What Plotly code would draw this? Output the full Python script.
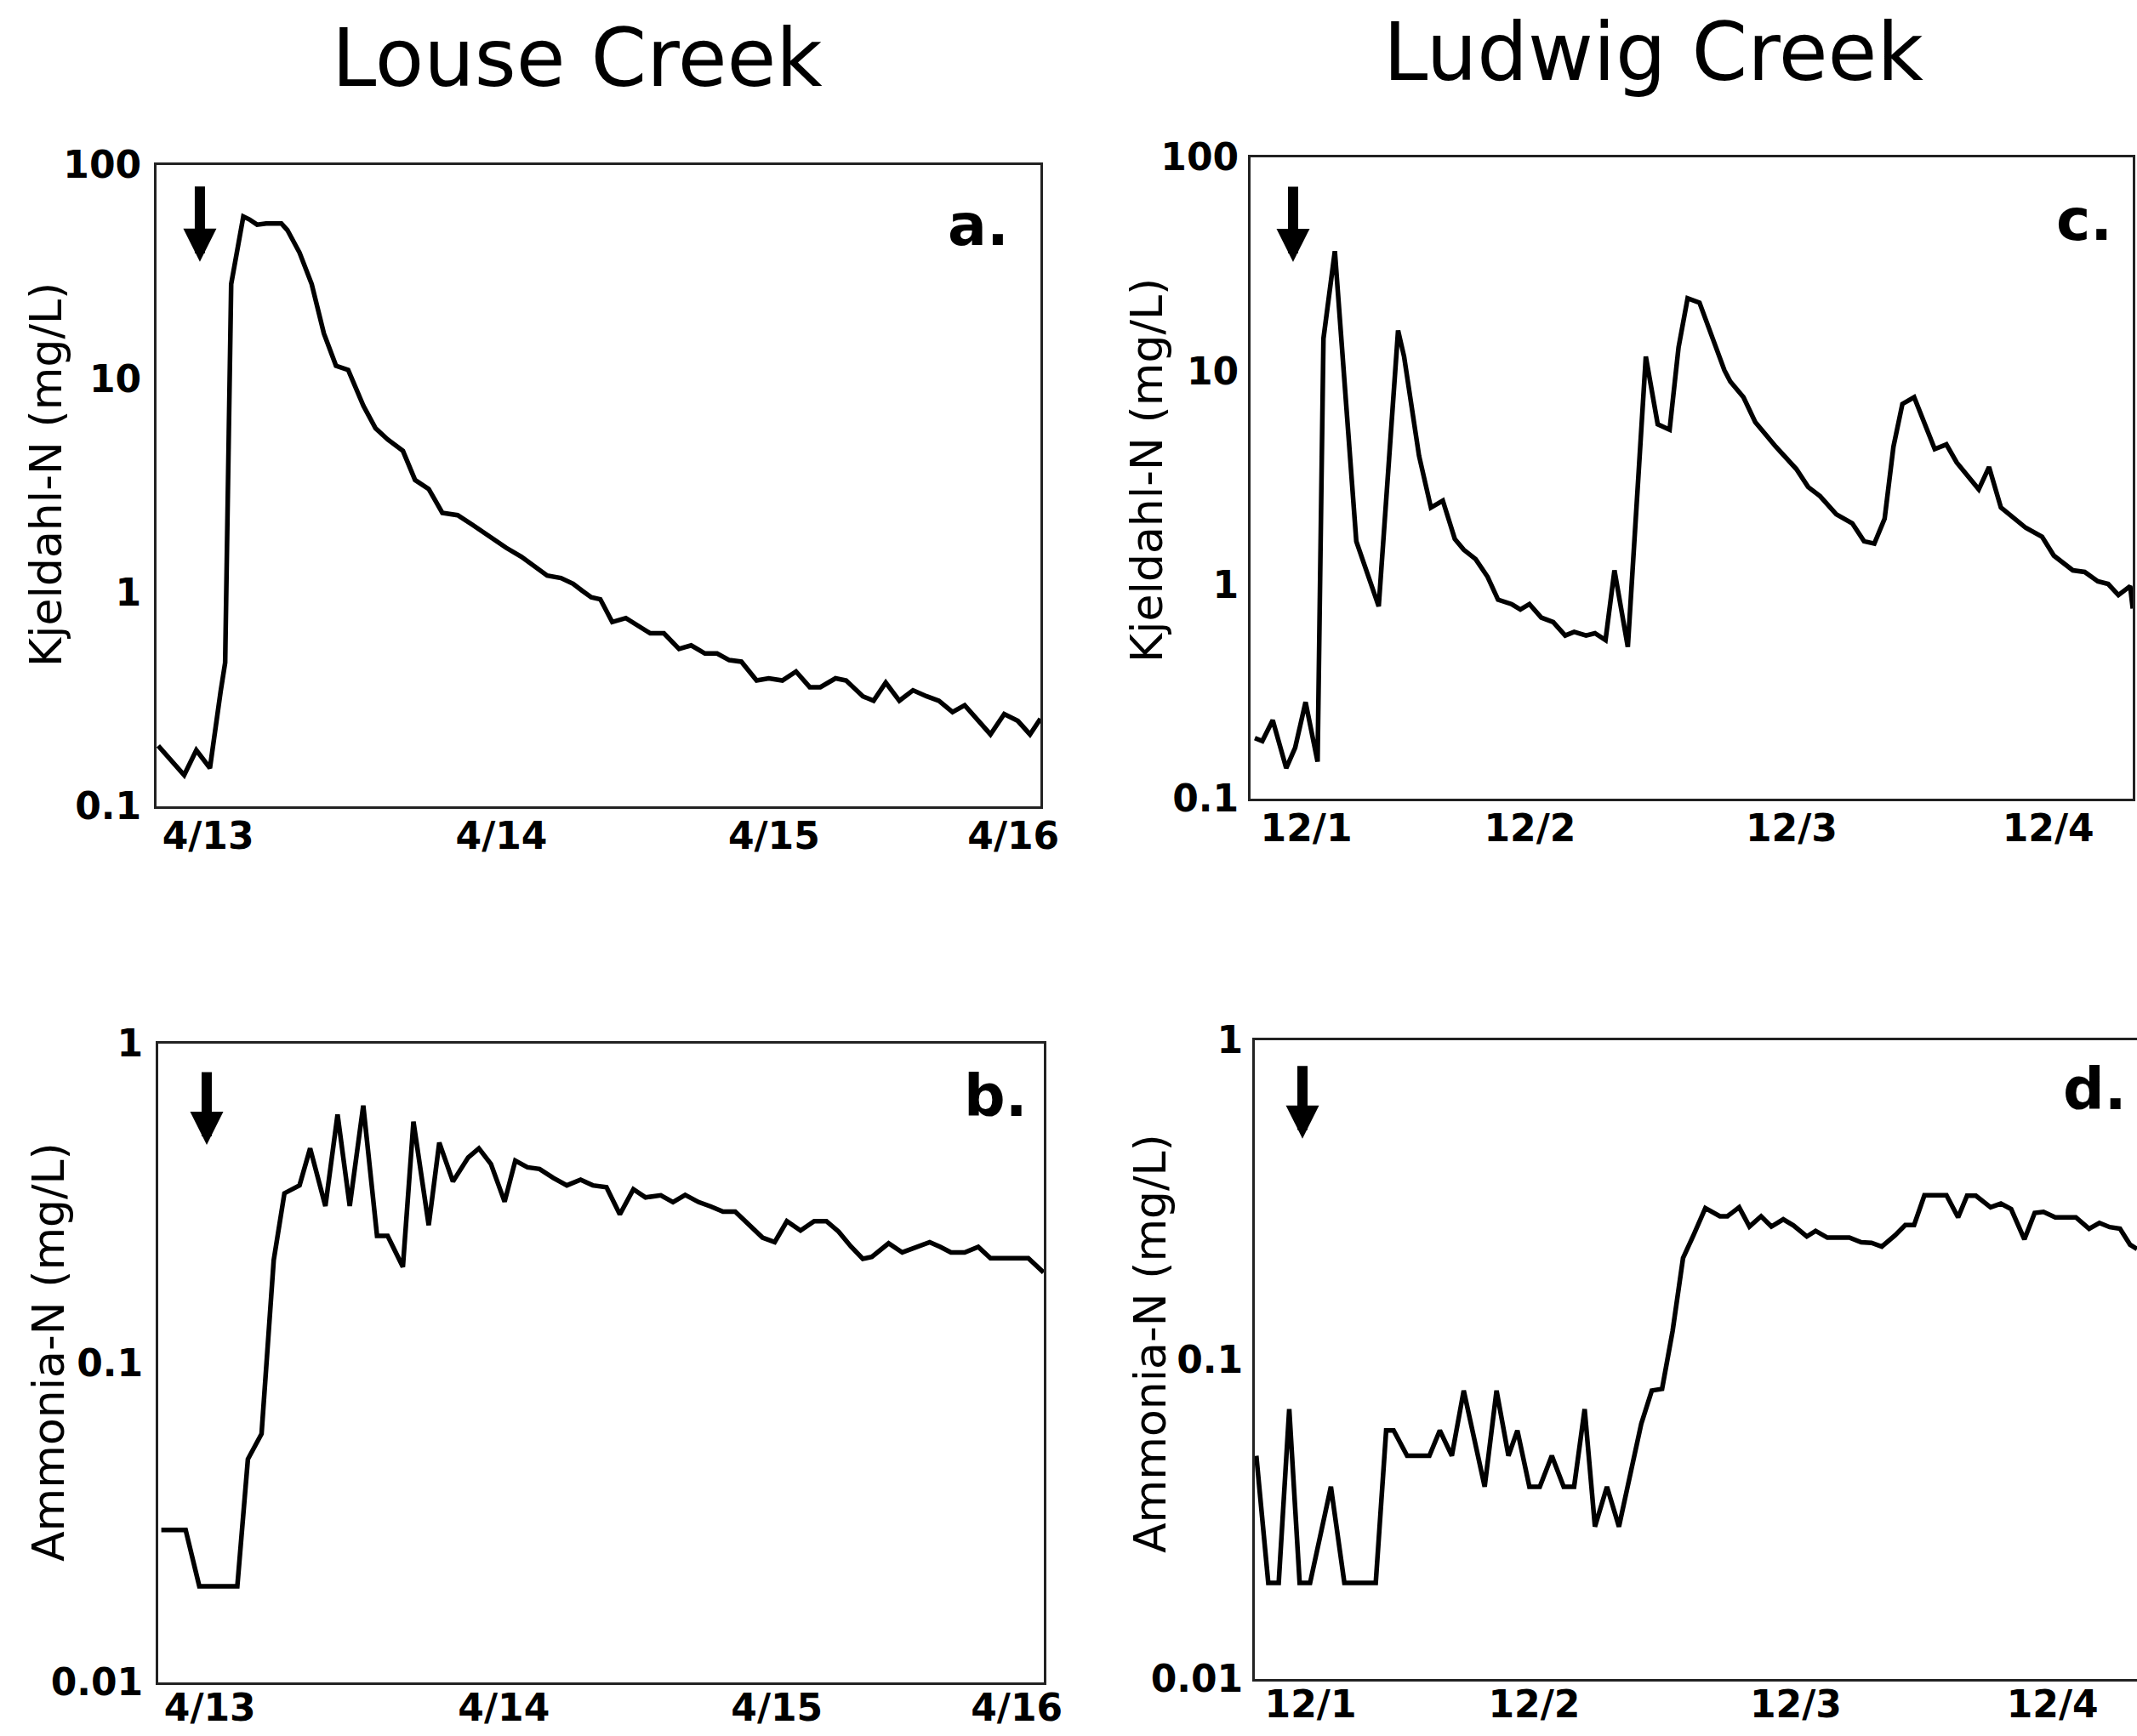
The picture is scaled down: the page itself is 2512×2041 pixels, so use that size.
import plotly.graph_objects as go

# ---------------- data (x = hours from left edge of each panel) ----------------
# Louse Creek, Kjeldahl-N (panel a)
louse_tkn_hours = [0.14, 2.25, 3.24, 4.35, 5.22, 5.59, 6.08, 6.45, 7.07, 7.57, 8.19, 8.93, 10.17, 10.66,
                   11.65, 12.64, 13.63, 14.62, 15.61, 16.85, 17.84, 18.83, 20.07, 21.06, 22.17, 23.28,
                   24.53, 25.76, 27.0, 28.48, 29.72, 30.96, 31.82, 32.94, 33.93, 34.67, 35.41, 36.15,
                   37.12, 38.23, 40.21, 41.33, 42.56, 43.55, 44.67, 45.66, 46.65, 47.64, 48.88, 49.87,
                   50.98, 52.09, 53.21, 54.07, 55.31, 56.17, 57.54, 58.41, 59.40, 60.51, 61.62, 62.74,
                   63.73, 64.84, 65.83, 67.93, 69.05, 70.16, 71.15, 72.0]
louse_tkn = [0.192, 0.140, 0.183, 0.151, 0.344, 0.47, 27.7, 37.1, 57.4, 55.6, 52.6, 53.3, 53.3, 49.6,
             38.9, 27.7, 16.3, 11.5, 11.0, 7.48, 5.87, 5.20, 4.60, 3.36, 3.05, 2.36,
             2.30, 2.07, 1.85, 1.62, 1.47, 1.30, 1.20, 1.17, 1.10, 1.02, 0.95, 0.93,
             0.728, 0.76, 0.645, 0.645, 0.545, 0.566, 0.519, 0.519, 0.483, 0.475, 0.388, 0.397,
             0.388, 0.427, 0.361, 0.361, 0.397, 0.388, 0.327, 0.312, 0.379, 0.312, 0.349, 0.327,
             0.312, 0.276, 0.297, 0.217, 0.27, 0.251, 0.217, 0.257]

# Louse Creek, Ammonia-N (panel b)
louse_nh3_hours = [0.25, 2.23, 3.34, 6.43, 7.29, 8.40, 9.39, 10.26, 11.49, 12.35, 13.59, 14.58, 15.57,
                   16.67, 17.79, 18.65, 19.89, 20.75, 21.99, 22.85, 23.96, 25.20, 26.07, 27.05, 28.16,
                   29.03, 30.02, 31.00, 32.12, 33.22, 34.34, 35.33, 36.44, 37.53, 38.63, 39.62, 40.86,
                   41.85, 42.84, 43.94, 44.93, 45.92, 46.91, 48.14, 49.13, 50.12, 51.11, 52.22, 53.33,
                   54.32, 55.31, 56.30, 57.28, 58.02, 59.38, 60.49, 61.61, 62.72, 63.59, 64.45, 65.56,
                   66.67, 67.66, 68.77, 70.74, 71.98]
louse_nh3 = [0.03, 0.03, 0.02, 0.02, 0.05, 0.06, 0.21, 0.34, 0.36, 0.47, 0.31, 0.60, 0.31,
             0.64, 0.25, 0.25, 0.20, 0.57, 0.27, 0.49, 0.37, 0.44, 0.47, 0.42, 0.32,
             0.43, 0.41, 0.405, 0.38, 0.36, 0.375, 0.36, 0.355, 0.292, 0.35, 0.33, 0.335,
             0.319, 0.336, 0.319, 0.309, 0.298, 0.298, 0.269, 0.247, 0.239, 0.278, 0.26, 0.278,
             0.278, 0.258, 0.232, 0.212, 0.215, 0.237, 0.222, 0.231, 0.239, 0.231, 0.222, 0.222,
             0.231, 0.213, 0.213, 0.213, 0.192]

# Ludwig Creek, Kjeldahl-N (panel c)
ludwig_tkn_hours = [0.35, 0.96, 1.81, 2.91, 3.64, 4.49, 5.47, 5.95, 6.88, 8.63, 10.46, 12.04, 12.53,
                    13.75, 14.72, 15.69, 16.67, 17.40, 18.37, 19.35, 20.20, 21.29, 22.02, 22.76, 23.73,
                    24.70, 25.68, 26.41, 27.38, 28.11, 28.97, 29.70, 30.79, 32.26, 33.23, 34.20, 34.93,
                    35.67, 36.64, 37.60, 38.67, 39.15, 40.23, 41.19, 42.87, 44.55, 45.51, 46.48, 47.80,
                    49.11, 50.07, 50.91, 51.75, 52.47, 53.20, 54.16, 54.99, 55.84, 56.79, 57.63, 59.43,
                    60.27, 61.24, 62.31, 63.27, 64.60, 65.56, 67.11, 68.08, 69.15, 69.99, 70.83, 71.79, 72.0]
ludwig_tkn = [0.192, 0.186, 0.233, 0.139, 0.173, 0.283, 0.149, 14.2, 36.4, 1.60, 0.794, 15.5, 11.7,
              4.02, 2.30, 2.48, 1.64, 1.46, 1.32, 1.09, 0.853, 0.813, 0.767, 0.813, 0.703,
              0.670, 0.580, 0.603, 0.580, 0.594, 0.552, 1.17, 0.513, 11.7, 5.64, 5.32, 12.9,
              21.9, 20.9, 14.9, 10.1, 8.95, 7.55, 5.78, 4.43, 3.48, 2.87, 2.60, 2.14,
              1.94, 1.60, 1.56, 2.04, 4.43, 7.02, 7.55, 5.64, 4.32, 4.54, 3.74, 2.80,
              3.56, 2.30, 2.04, 1.85, 1.68, 1.37, 1.17, 1.15, 1.04, 1.01, 0.896, 0.987, 0.775]

# Ludwig Creek, Ammonia-N (panel d)
ludwig_nh3_hours = [0.125, 1.10, 1.95, 2.81, 3.66, 4.51, 6.21, 7.31, 9.87, 10.72, 11.33, 12.43, 14.25,
                    15.10, 16.08, 17.05, 18.76, 19.73, 20.70, 21.43, 22.41, 23.26, 24.24, 25.21, 26.06,
                    26.92, 27.76, 28.74, 29.72, 31.54, 32.40, 33.24, 34.10, 34.95, 35.80, 36.77, 37.96,
                    38.57, 39.53, 40.37, 41.32, 42.16, 43.13, 43.97, 45.05, 45.77, 46.73, 48.52, 49.49,
                    50.33, 51.17, 52.25, 53.09, 53.81, 54.65, 56.45, 57.40, 58.13, 58.85, 60.05, 60.89,
                    61.73, 62.81, 63.65, 64.37, 65.33, 67.01, 68.09, 68.93, 69.77, 70.61, 71.44, 72.0]
ludwig_nh3 = [0.05, 0.02, 0.02, 0.07, 0.02, 0.02, 0.04, 0.02, 0.02, 0.06, 0.06, 0.05, 0.05,
              0.06, 0.05, 0.08, 0.04, 0.08, 0.05, 0.06, 0.04, 0.04, 0.05, 0.04, 0.04,
              0.07, 0.03, 0.04, 0.03, 0.063, 0.080, 0.081, 0.123, 0.208, 0.245, 0.298, 0.281,
              0.281, 0.300, 0.261, 0.281, 0.261, 0.275, 0.263, 0.243, 0.253, 0.241, 0.241, 0.233,
              0.232, 0.226, 0.245, 0.264, 0.264, 0.327, 0.327, 0.279, 0.326, 0.326, 0.300, 0.308,
              0.296, 0.238, 0.288, 0.290, 0.279, 0.279, 0.257, 0.268, 0.260, 0.257, 0.229, 0.222]

# axis ticks
louse_tick_hours = [4.2, 28.1, 50.3, 69.8]
louse_tick_labels = ["4/13", "4/14", "4/15", "4/16"]
ludwig_tick_hours = [4.55, 22.8, 44.15, 65.1]
ludwig_tick_labels = ["12/1", "12/2", "12/3", "12/4"]
tkn_ticks = [0.1, 1, 10, 100]
tkn_tick_labels = ["0.1", "1", "10", "100"]
nh3_ticks = [0.01, 0.1, 1]
nh3_tick_labels = ["0.01", "0.1", "1"]
event_hours = [3.53, 3.94, 3.47, 3.89]   # storm-start arrows a, b, c, d

W, H = 2512, 2041

def px_x(p):
    return p / W

def px_y(p):
    return 1 - p / H

# panel boxes in pixels: (left, right, top, bottom)
boxes = {
    "a": (184, 1223, 194, 948),
    "b": (186, 1227, 1227, 1978),
    "c": (1470, 2507, 185, 939),
    "d": (1475, 2512, 1223, 1974),
}
# tick label offsets (x standoff, y standoff)
standoffs = {"a": (-6, 6), "b": (-11, 6), "c": (-6, 2), "d": (-11, 2)}

fig = go.Figure()
series = [
    ("a", louse_tkn_hours, louse_tkn, "x", "y"),
    ("b", louse_nh3_hours, louse_nh3, "x2", "y2"),
    ("c", ludwig_tkn_hours, ludwig_tkn, "x3", "y3"),
    ("d", ludwig_nh3_hours, ludwig_nh3, "x4", "y4"),
]
for key, xs, ys, xa, ya in series:
    fig.add_trace(go.Scatter(x=xs, y=ys, mode="lines", xaxis=xa, yaxis=ya,
                             line=dict(color="black", width=5.5), showlegend=False,
                             hoverinfo="skip"))

tickfont = dict(family="DejaVu Sans", size=44, color="black", weight="bold")
axis_common = dict(showgrid=False, zeroline=False, showline=True, mirror=True,
                   linecolor="#222222", linewidth=3, ticks="", tickfont=tickfont,
                   fixedrange=True, automargin=False)

layout = dict(width=W, height=H, margin=dict(l=0, r=0, t=0, b=0, pad=0, autoexpand=False),
              paper_bgcolor="white", plot_bgcolor="white", showlegend=False)

names = ["", "2", "3", "4"]
for i, key in enumerate(["a", "b", "c", "d"]):
    l, r, t, b = boxes[key]
    n = names[i]
    xt = louse_tick_hours if key in "ab" else ludwig_tick_hours
    xl = louse_tick_labels if key in "ab" else ludwig_tick_labels
    yt = tkn_ticks if key in "ac" else nh3_ticks
    yl = tkn_tick_labels if key in "ac" else nh3_tick_labels
    yr = [-1, 2] if key in "ac" else [-2, 0]
    sx, sy = standoffs[key]
    layout["xaxis" + n] = dict(axis_common, domain=[px_x(l), px_x(r)], range=[0, 72],
                               tickvals=xt, ticktext=xl, anchor="y" + n,
                               ticklabelstandoff=sx)
    layout["yaxis" + n] = dict(axis_common, domain=[px_y(b), px_y(t)], type="log", range=yr,
                               tickvals=yt, ticktext=yl, anchor="x" + n,
                               ticklabelstandoff=sy)

fig.update_layout(**layout)

ann = []
# column titles
ann.append(dict(text="Louse Creek", x=px_x(678), y=px_y(69), xref="paper", yref="paper",
                showarrow=False, xanchor="center", yanchor="middle",
                font=dict(family="DejaVu Sans", size=94, color="black")))
ann.append(dict(text="Ludwig Creek", x=px_x(1943), y=px_y(61), xref="paper", yref="paper",
                showarrow=False, xanchor="center", yanchor="middle",
                font=dict(family="DejaVu Sans", size=94, color="black")))
# y axis titles
for txt, cx, cy in [("Kjeldahl-N (mg/L)", 54, 558), ("Ammonia-N (mg/L)", 57, 1590),
                    ("Kjeldahl-N (mg/L)", 1348, 553), ("Ammonia-N (mg/L)", 1352, 1580)]:
    ann.append(dict(text=txt, x=px_x(cx), y=px_y(cy), xref="paper", yref="paper",
                    showarrow=False, textangle=-90, xanchor="center", yanchor="middle",
                    font=dict(family="DejaVu Sans", size=52, color="black")))
# panel letters
for txt, cx, cy in [("a.", 1150, 264), ("b.", 1170, 1288), ("c.", 2450, 258), ("d.", 2462, 1280)]:
    ann.append(dict(text=txt, x=px_x(cx), y=px_y(cy), xref="paper", yref="paper",
                    showarrow=False, xanchor="center", yanchor="middle",
                    font=dict(family="DejaVu Sans", size=68, color="black", weight="bold")))
# event arrows
arrow_specs = [("x", "y domain", 0.849, -90), ("x2", "y2 domain", 0.8415, -87),
               ("x3", "y3 domain", 0.837, -90), ("x4", "y4 domain", 0.846, -87)]
for hr, (xr, yr, ytip, ay) in zip(event_hours, arrow_specs):
    ann.append(dict(text="", x=hr, y=ytip, xref=xr, yref=yr, showarrow=True,
                    ax=0, ay=ay, axref="pixel", ayref="pixel",
                    arrowhead=2, arrowsize=0.65, arrowwidth=12, arrowcolor="black",
                    standoff=0))
fig.update_layout(annotations=ann)

fig.write_html("out.html", config={"displayModeBar": False},
               post_script="document.body.style.margin='0';")
